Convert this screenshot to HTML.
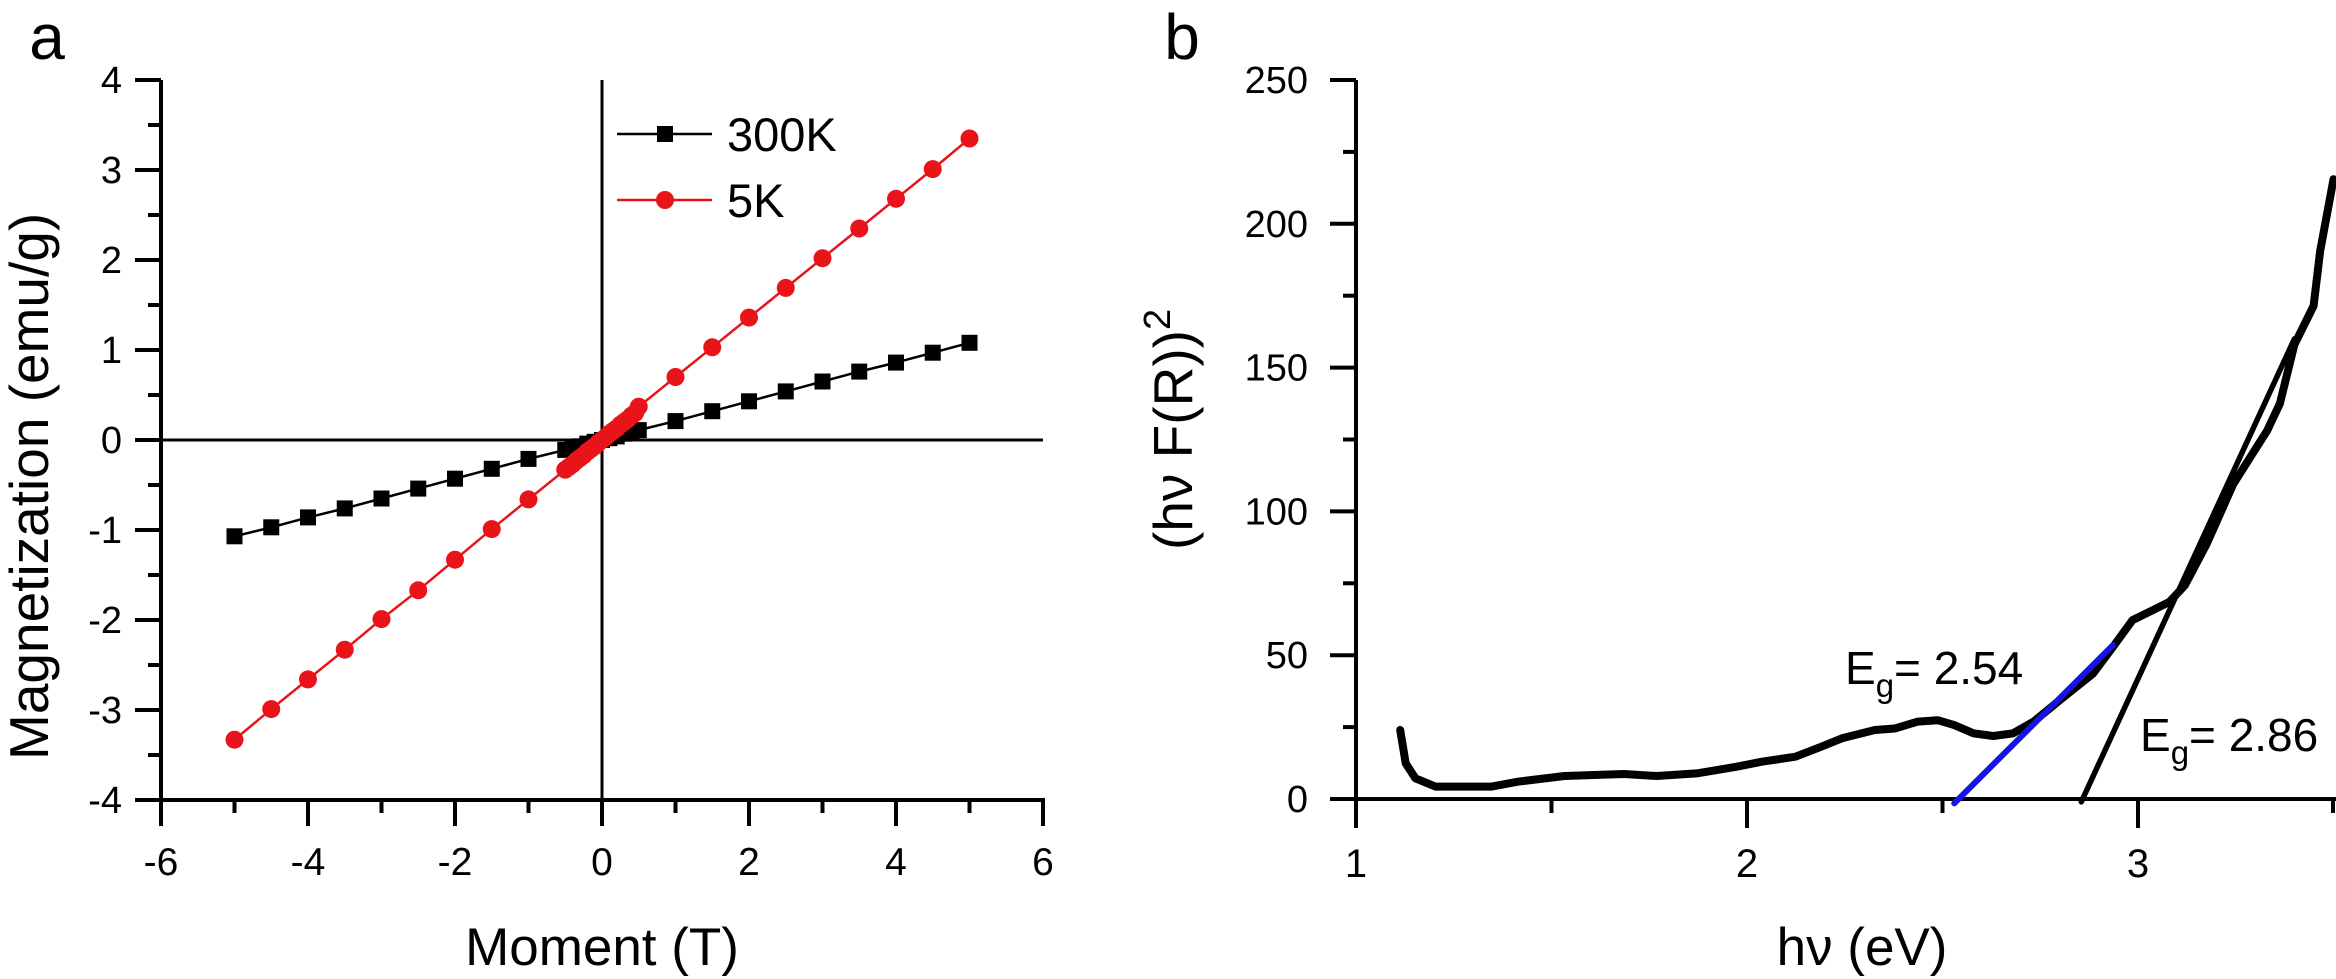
<!DOCTYPE html>
<html>
<head>
<meta charset="utf-8">
<style>
html,body{margin:0;padding:0;background:#fff;}
svg{display:block;}
text{font-family:"Liberation Sans",Arial,sans-serif;fill:#000;}
</style>
</head>
<body>
<svg id="fig" width="2336" height="979" viewBox="0 0 2336 979" xmlns="http://www.w3.org/2000/svg">
  <g id="panelA"></g>
  <g id="panelB"></g>
</svg>
<script>
// ---------- Panel A data ----------
const aFieldT300 = [-5,-4.5,-4,-3.5,-3,-2.5,-2,-1.5,-1,-0.5,-0.4,-0.3,-0.2,-0.1,0,0.1,0.2,0.3,0.4,0.5,1,1.5,2,2.5,3,3.5,4,4.5,5];
const aMag300K = [-1.07,-0.97,-0.86,-0.76,-0.65,-0.54,-0.43,-0.32,-0.21,-0.11,-0.09,-0.07,-0.04,-0.02,0,0.02,0.04,0.07,0.09,0.11,0.21,0.32,0.43,0.54,0.65,0.76,0.86,0.97,1.08];
const aFieldT5 = [-5,-4.5,-4,-3.5,-3,-2.5,-2,-1.5,-1,-0.5,-0.45,-0.4,-0.35,-0.3,-0.25,-0.2,-0.15,-0.1,-0.05,0,0.05,0.1,0.15,0.2,0.25,0.3,0.35,0.4,0.45,0.5,1,1.5,2,2.5,3,3.5,4,4.5,5];
const aMag5K = [-3.33,-2.99,-2.66,-2.33,-1.99,-1.67,-1.33,-0.99,-0.66,-0.33,-0.30,-0.27,-0.23,-0.20,-0.17,-0.13,-0.10,-0.07,-0.03,0,0.03,0.07,0.10,0.13,0.17,0.20,0.23,0.27,0.30,0.37,0.70,1.03,1.36,1.69,2.02,2.35,2.68,3.01,3.35];
const aXTicks = [-6,-4,-2,0,2,4,6];
const aXMinor = [-5,-3,-1,1,3,5];
const aYTicks = [-4,-3,-2,-1,0,1,2,3,4];
const aYMinor = [-3.5,-2.5,-1.5,-0.5,0.5,1.5,2.5,3.5];

// ---------- Panel B data ----------
const bEnergy = [1.113,1.127,1.152,1.203,1.347,1.414,1.533,1.685,1.769,1.871,1.972,2.04,2.124,2.19,2.243,2.327,2.378,2.437,2.488,2.53,2.58,2.63,2.68,2.733,2.8,2.885,2.936,2.986,3.037,3.08,3.12,3.176,3.244,3.33,3.363,3.40,3.449,3.466,3.50];
const bSignal = [24,12.4,7.2,4.3,4.3,6.0,8.0,8.7,8.0,8.9,11.2,13,14.7,18.2,21.1,24,24.5,26.9,27.4,25.7,22.8,21.9,22.8,26.9,34.4,43.6,52.9,62.2,65.6,68.5,74.3,88.8,109.6,128,137.5,158,171.5,190.6,215.5];
const bFit1X = [2.53,2.936];
const bFit1Y = [-1.5,53.5];
const bFit2X = [2.855,3.40];
const bFit2Y = [-1,160];
const bXTicks = [1,2,3];
const bXMinor = [1.5,2.5,3.5];
const bYTicks = [0,50,100,150,200,250];
const bYMinor = [25,75,125,175,225];

const NS = "http://www.w3.org/2000/svg";
function mk(parent, tag, attrs){
  const e = document.createElementNS(NS, tag);
  for (const k in attrs) e.setAttribute(k, attrs[k]);
  parent.appendChild(e);
  return e;
}
function txt(parent, x, y, s, size, anchor, sx){
  const t = mk(parent, 'text', {transform:`translate(${x},${y}) scale(${sx||1},1)`, 'font-size':size, 'text-anchor':anchor||'middle'});
  t.textContent = s;
  return t;
}

// ===== Panel A =====
const A = document.getElementById('panelA');
const ax = v => 161 + (v + 6) / 12 * (1043 - 161);
const ay = v => 440 - v / 4 * 360;

const aAxes = mk(A,'g',{});


mk(aAxes,'line',{x1:ax(-6),y1:ay(4),x2:ax(-6),y2:ay(-4)+2,stroke:'#000','stroke-width':4});
mk(aAxes,'line',{x1:ax(-6)-2,y1:ay(-4),x2:ax(6)+2,y2:ay(-4),stroke:'#000','stroke-width':4});
const zv = mk(aAxes,'line',{x1:ax(0),y1:ay(4),x2:ax(0),y2:ay(-4),stroke:'#000','stroke-width':3});


const zh = mk(aAxes,'line',{x1:ax(-6),y1:ay(0),x2:ax(6),y2:ay(0),stroke:'#000','stroke-width':3});


aXTicks.forEach(v=>{
  mk(aAxes,'line',{x1:ax(v),y1:ay(-4),x2:ax(v),y2:ay(-4)+26,stroke:'#000','stroke-width':4});
  const t = txt(aAxes, ax(v), 875, String(v), 39);
  
  
});
aXMinor.forEach(v=>mk(aAxes,'line',{x1:ax(v),y1:ay(-4),x2:ax(v),y2:ay(-4)+13,stroke:'#000','stroke-width':4}));
aYTicks.forEach(v=>{
  mk(aAxes,'line',{x1:ax(-6)-26,y1:ay(v),x2:ax(-6),y2:ay(v),stroke:'#000','stroke-width':4});
  const t = txt(aAxes, 122, ay(v)+13, String(v), 38, 'end');
  
  
});
aYMinor.forEach(v=>mk(aAxes,'line',{x1:ax(-6)-13,y1:ay(v),x2:ax(-6),y2:ay(v),stroke:'#000','stroke-width':4}));

const aXT = txt(A, ax(0), 965, 'Moment (T)', 53);


const aYT = mk(A,'text',{transform:`translate(48,760) rotate(-90)`,'font-size':55,'text-anchor':'start'});
aYT.textContent = 'Magnetization (emu/g)';


const aLab = txt(A, 47, 59, 'a', 64);



// series
function seriesA(xs, ys, color, shape, name){
  const g = mk(A,'g',{});
  
  
  const pts = xs.map((x,i)=>ax(x).toFixed(1)+','+ay(ys[i]).toFixed(1)).join(' ');
  mk(g,'polyline',{points:pts,fill:'none',stroke:color,'stroke-width':2.5});
  xs.forEach((x,i)=>{
    let m;
    if (shape==='square') m = mk(g,'rect',{x:ax(x)-8,y:ay(ys[i])-8,width:16,height:16,fill:color});
    else m = mk(g,'ellipse',{cx:ax(x),cy:ay(ys[i]),rx:9,ry:9,fill:color});
    
    
  });
}
seriesA(aFieldT300, aMag300K, '#000', 'square', 'series-300k');
seriesA(aFieldT5, aMag5K, '#e8141a', 'circle', 'series-5k');

// legend
const leg = mk(A,'g',{});


const l1 = mk(leg,'g',{});


mk(l1,'line',{x1:617,y1:134,x2:712,y2:134,stroke:'#000','stroke-width':2.5});
mk(l1,'rect',{x:657,y:126,width:16,height:16,fill:'#000'});
txt(l1, 727, 151, '300K', 47, 'start');
const l2 = mk(leg,'g',{});


mk(l2,'line',{x1:617,y1:200,x2:712,y2:200,stroke:'#e8141a','stroke-width':2.5});
mk(l2,'ellipse',{cx:665,cy:200,rx:9,ry:9,fill:'#e8141a'});
txt(l2, 727, 217, '5K', 47, 'start');

// ===== Panel B =====
const B = document.getElementById('panelB');
const bx = v => 1356 + (v - 1) * 391;
const by = v => 799 - v / 250 * 719;

const bAxes = mk(B,'g',{});


mk(bAxes,'line',{x1:bx(1),y1:by(250),x2:bx(1),y2:by(0)+2,stroke:'#000','stroke-width':4});
mk(bAxes,'line',{x1:bx(1)-2,y1:by(0),x2:2336,y2:by(0),stroke:'#000','stroke-width':4});
bXTicks.forEach(v=>{
  mk(bAxes,'line',{x1:bx(v),y1:by(0),x2:bx(v),y2:by(0)+29,stroke:'#000','stroke-width':4});
  const t = txt(bAxes, bx(v), 877, String(v), 40);
  
  
});
bXMinor.forEach(v=>mk(bAxes,'line',{x1:Math.min(bx(v),2333),y1:by(0),x2:Math.min(bx(v),2333),y2:by(0)+14,stroke:'#000','stroke-width':4}));
bYTicks.forEach(v=>{
  mk(bAxes,'line',{x1:bx(1)-26,y1:by(v),x2:bx(1),y2:by(v),stroke:'#000','stroke-width':4});
  const t = txt(bAxes, 1308, by(v)+13, String(v), 38, 'end');
  
  
});
bYMinor.forEach(v=>mk(bAxes,'line',{x1:bx(1)-13,y1:by(v),x2:bx(1),y2:by(v),stroke:'#000','stroke-width':4}));

const bXT = txt(B, 1862, 965, 'hν (eV)', 53);


const bYT = mk(B,'text',{transform:`translate(1192,550) rotate(-90)`,'font-size':55,'text-anchor':'start'});
bYT.innerHTML = '(hν F(R))<tspan font-size="38" dy="-22">2</tspan>';


const bLab = txt(B, 1182, 59, 'b', 64);



const clip = mk(B,'clipPath',{id:'bclip'});
mk(clip,'rect',{x:1356,y:60,width:980,height:760});
const curve = mk(B,'polyline',{points:bEnergy.map((x,i)=>bx(x).toFixed(1)+','+by(bSignal[i]).toFixed(1)).join(' '),fill:'none',stroke:'#000','stroke-width':8,'stroke-linejoin':'round','stroke-linecap':'round','clip-path':'url(#bclip)'});


const f1 = mk(B,'line',{x1:bx(bFit1X[0]),y1:by(bFit1Y[0]),x2:bx(bFit1X[1]),y2:by(bFit1Y[1]),stroke:'#1414e6','stroke-width':6,'stroke-linecap':'round'});


const f2 = mk(B,'line',{x1:bx(bFit2X[0]),y1:by(bFit2Y[0]),x2:bx(bFit2X[1]),y2:by(bFit2Y[1]),stroke:'#000','stroke-width':5.5,'stroke-linecap':'round'});



const e1 = mk(B,'text',{transform:'translate(1845,684)','font-size':46});
e1.innerHTML = 'E<tspan font-size="33" dy="13">g</tspan><tspan dy="-13">= 2.54</tspan>';


const e2 = mk(B,'text',{transform:'translate(2140,751)','font-size':46});
e2.innerHTML = 'E<tspan font-size="33" dy="13">g</tspan><tspan dy="-13">= 2.86</tspan>';


</script>
</body>
</html>
